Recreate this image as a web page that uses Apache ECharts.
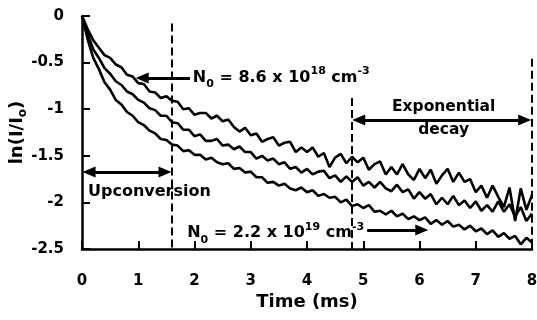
<!DOCTYPE html>
<html>
<head>
<meta charset="utf-8">
<script src="https://cdn.jsdelivr.net/npm/echarts@6/dist/echarts.min.js"></script>
<style>html,body{margin:0;padding:0;background:#fff}#c{width:537px;height:320px}</style>
</head>
<body>
<div id="c"></div>
<script>
// sampling grid of the traces (ms), step 0.1 from 0 to 8
const time = [];
for (let i = 0; i <= 80; i++) time.push(+(i * 0.1).toFixed(1));

// ln(I/I0) traces
const traceLow = [ // N0 = 8.6e18 (top)
  0, -0.14, -0.26, -0.34, -0.42, -0.45, -0.52, -0.55, -0.63, -0.65,
  -0.72, -0.73, -0.81, -0.82, -0.88, -0.86, -0.91, -0.92, -1.00, -0.99,
  -1.06, -1.04, -1.04, -1.10, -1.07, -1.13, -1.11, -1.19, -1.24, -1.20,
  -1.28, -1.26, -1.35, -1.32, -1.30, -1.39, -1.36, -1.35, -1.46, -1.41,
  -1.46, -1.41, -1.51, -1.47, -1.62, -1.52, -1.48, -1.58, -1.51, -1.57,
  -1.52, -1.65, -1.59, -1.56, -1.70, -1.62, -1.70, -1.59, -1.70, -1.76,
  -1.64, -1.74, -1.65, -1.80, -1.71, -1.64, -1.78, -1.68, -1.78, -1.75,
  -1.89, -1.82, -1.95, -1.82, -1.94, -2.05, -1.84, -2.20, -1.85, -2.08,
  -1.92];
const traceMid = [
  0, -0.19, -0.36, -0.45, -0.56, -0.62, -0.70, -0.74, -0.81, -0.84,
  -0.90, -0.93, -0.99, -1.01, -1.07, -1.07, -1.14, -1.15, -1.22, -1.22,
  -1.29, -1.27, -1.34, -1.34, -1.32, -1.39, -1.38, -1.43, -1.40, -1.46,
  -1.46, -1.53, -1.50, -1.55, -1.53, -1.59, -1.57, -1.64, -1.62, -1.68,
  -1.64, -1.70, -1.67, -1.66, -1.74, -1.71, -1.78, -1.72, -1.78, -1.73,
  -1.82, -1.78, -1.84, -1.78, -1.85, -1.88, -1.81, -1.89, -1.86, -1.96,
  -1.89, -1.96, -1.91, -2.02, -1.95, -2.02, -1.93, -2.03, -1.98, -2.06,
  -1.99, -2.09, -2.03, -2.10, -1.99, -2.10, -2.02, -2.15, -2.05, -2.20,
  -2.12];
const traceHigh = [ // N0 = 2.2e19 (bottom)
  0, -0.25, -0.45, -0.57, -0.71, -0.79, -0.90, -0.95, -1.03, -1.07,
  -1.14, -1.17, -1.23, -1.26, -1.32, -1.33, -1.38, -1.39, -1.45, -1.44,
  -1.49, -1.49, -1.54, -1.52, -1.57, -1.59, -1.58, -1.64, -1.63, -1.68,
  -1.67, -1.73, -1.73, -1.79, -1.78, -1.82, -1.80, -1.85, -1.87, -1.84,
  -1.89, -1.87, -1.93, -1.91, -1.95, -1.94, -2.00, -1.97, -2.04, -2.02,
  -2.06, -2.03, -2.10, -2.09, -2.13, -2.09, -2.15, -2.12, -2.18, -2.15,
  -2.19, -2.16, -2.23, -2.19, -2.24, -2.20, -2.26, -2.24, -2.29, -2.25,
  -2.31, -2.28, -2.34, -2.30, -2.37, -2.33, -2.39, -2.36, -2.45, -2.38,
  -2.43];

const xTicks = [0, 1, 2, 3, 4, 5, 6, 7, 8];
const yTicks = [0, -0.5, -1, -1.5, -2, -2.5];
const regionBounds = [1.6, 4.8, 8];

const FONT = 'DejaVu Sans';
const pair = (xs, ys) => xs.map((x, i) => [x, ys[i]]);

const chart = echarts.init(document.getElementById('c'), null, {renderer: 'canvas'});

const dashStyle = {color: '#000', width: 2, type: [8, 4]};
const arrowStyle = {color: '#000', width: 3, type: 'solid'};
const HEAD = [11, 13];

function lineSeries(d, extra) {
  return Object.assign({
    type: 'line', data: d, showSymbol: false, symbol: 'none', silent: true,
    lineStyle: {color: '#000', width: 2.6}, animation: false, z: 3
  }, extra || {});
}

chart.setOption({
  animation: false,
  backgroundColor: '#fff',
  grid: {left: 82, right: 5, top: 16, bottom: 71, containLabel: false, outerBoundsMode: 'none'},
  xAxis: {
    type: 'value', min: xTicks[0], max: xTicks[xTicks.length - 1], interval: 1,
    name: 'Time (ms)', nameLocation: 'middle', nameGap: 44, nameMoveOverlap: false,
    nameTextStyle: {fontFamily: FONT, fontWeight: 'bold', fontSize: 18, color: '#000'},
    axisLine: {show: true, onZero: false, lineStyle: {color: '#000', width: 2.5}},
    axisTick: {show: true, inside: true, length: 8, lineStyle: {color: '#000', width: 2}},
    axisLabel: {fontFamily: FONT, fontWeight: 'bold', fontSize: 15, color: '#000', margin: 25},
    splitLine: {show: false}
  },
  yAxis: {
    type: 'value', min: yTicks[yTicks.length - 1], max: yTicks[0], interval: 0.5,
    name: 'ln(I/I{sub|o})', nameLocation: 'middle', nameGap: 53, nameRotate: 90, nameMoveOverlap: false,
    nameTextStyle: {fontFamily: FONT, fontWeight: 'bold', fontSize: 18, color: '#000', lineHeight: 24,
      rich: {sub: {fontFamily: FONT, fontWeight: 'bold', fontSize: 12, lineHeight: 16, verticalAlign: 'bottom', color: '#000'}}},
    axisLine: {show: true, onZero: false, lineStyle: {color: '#000', width: 2.5}},
    axisTick: {show: true, inside: true, length: 8, lineStyle: {color: '#000', width: 2}},
    axisLabel: {fontFamily: FONT, fontWeight: 'bold', fontSize: 15, color: '#000', margin: 18},
    splitLine: {show: false}
  },
  series: [
    lineSeries(pair(time, traceLow), {
      markLine: {
        silent: true, symbol: 'none', label: {show: false}, animation: false,
        lineStyle: dashStyle,
        data: [
          [{coord: [regionBounds[0], -0.08]}, {coord: [regionBounds[0], -2.5]}],
          [{coord: [regionBounds[1], -0.88]}, {coord: [regionBounds[1], -2.5]}],
          [{coord: [regionBounds[2], -0.46]}, {coord: [regionBounds[2], -2.5]}]
        ]
      }
    }),
    lineSeries(pair(time, traceMid)),
    lineSeries(pair(time, traceHigh)),
    { // single-headed arrows
      type: 'line', data: [], silent: true,
      markLine: {
        silent: true, symbol: ['none', 'triangle'], symbolSize: HEAD, label: {show: false}, animation: false,
        lineStyle: arrowStyle,
        data: [
          [{coord: [1.92, -0.665]}, {coord: [1.07, -0.665]}],
          [{coord: [5.07, -2.296]}, {coord: [6.04, -2.296]}]
        ]
      }
    },
    { // double-headed arrows
      type: 'line', data: [], silent: true,
      markLine: {
        silent: true, symbol: ['triangle', 'triangle'], symbolSize: HEAD, label: {show: false}, animation: false,
        lineStyle: arrowStyle,
        data: [
          [{coord: [4.92, -1.116]}, {coord: [7.87, -1.116]}],
          [{coord: [0.125, -1.674]}, {coord: [1.475, -1.674]}]
        ]
      }
    }
  ]
});

const P = (x, y) => chart.convertToPixel({xAxisIndex: 0, yAxisIndex: 0}, [x, y]);
const richNS = {
  sub: {fontFamily: FONT, fontWeight: 'bold', fontSize: 11, lineHeight: 16, verticalAlign: 'bottom', fill: '#000'},
  sup: {fontFamily: FONT, fontWeight: 'bold', fontSize: 11, lineHeight: 10, verticalAlign: 'top', fill: '#000'}
};
function txt(pt, text, size, align, rich) {
  return {
    type: 'text', x: pt[0], y: pt[1], silent: true, z: 10,
    style: {text: text, fontFamily: FONT, fontWeight: 'bold', fontSize: size, lineHeight: rich ? 24 : size + 2,
      fill: '#000', align: align, verticalAlign: 'middle', rich: rich || undefined}
  };
}
chart.setOption({
  graphic: [
    txt(P(1.97, -0.665), 'N{sub|0} = 8.6 x 10{sup|18} cm{sup|-3}', 16, 'left', richNS),
    txt(P(1.87, -2.33), 'N{sub|0} = 2.2 x 10{sup|19} cm{sup|-3}', 16, 'left', richNS),
    txt(P(6.43, -0.976), 'Exponential', 15.5, 'center'),
    txt(P(6.43, -1.223), 'decay', 15.5, 'center'),
    txt(P(0.107, -1.888), 'Upconversion', 16, 'left')
  ]
});
</script>
</body>
</html>
